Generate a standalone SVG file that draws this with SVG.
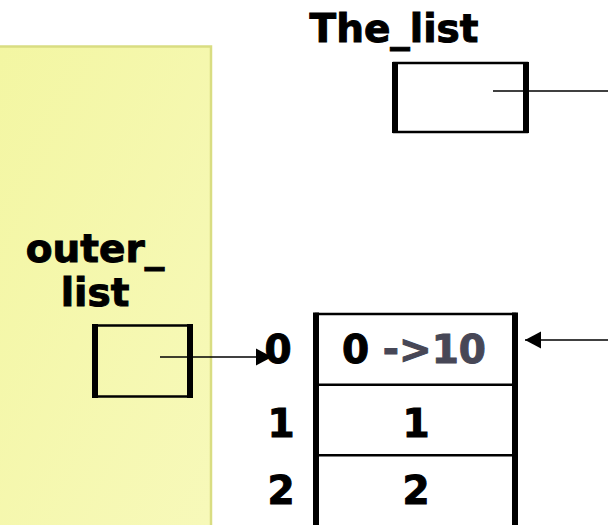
<svg xmlns="http://www.w3.org/2000/svg" width="608" height="525" viewBox="0 0 608 525">
  <style>
    .lbl { font-family: "DejaVu Sans", Verdana, sans-serif; font-weight: bold; font-size: 39px; fill: #000; stroke: #000; stroke-width: 1; }
    .mid { text-anchor: middle; }
    .grey { fill: #474756; stroke: #474756; }
    .edge { fill: none; stroke: #000; stroke-width: 2.5; }
    .side { stroke: #000; stroke-width: 6; }
    .link { fill: none; stroke: #000; stroke-width: 1.6; }
  </style>
  <defs>
    <linearGradient id="panelFill" x1="0" y1="0" x2="1" y2="1">
      <stop offset="0" stop-color="#f3f6a2"/>
      <stop offset="1" stop-color="#f7f9ba"/>
    </linearGradient>
    <marker id="head" markerUnits="userSpaceOnUse" markerWidth="18" markerHeight="18" refX="16" refY="9" orient="auto" overflow="visible">
      <path d="M0,0.5 L16,9 L0,17.5 Z" fill="#000"/>
    </marker>
  </defs>

  <rect width="608" height="525" fill="#fff"/>

  <!-- frame of the calling scope -->
  <g id="frame">
    <rect x="-10" y="46.5" width="221" height="490" fill="url(#panelFill)" stroke="#d9dd82" stroke-width="2.5"/>
  </g>

  <!-- variable The_list -->
  <g id="the_list">
    <text class="lbl mid" x="394" y="42">The_list</text>
    <rect class="edge" x="394" y="63" width="133" height="69"/>
    <line class="side" x1="395" y1="62" x2="395" y2="133"/>
    <line class="side" x1="526" y1="62" x2="526" y2="133"/>
  </g>

  <!-- variable outer_list -->
  <g id="outer_list">
    <text class="lbl mid" x="95" y="262">outer_</text>
    <text class="lbl mid" x="95" y="306">list</text>
    <rect class="edge" x="95" y="325.5" width="95" height="71"/>
    <line class="side" x1="95" y1="324" x2="95" y2="398"/>
    <line class="side" x1="190" y1="324" x2="190" y2="398"/>
  </g>

  <!-- list object with three slots -->
  <g id="list_object">
    <rect class="edge" x="316" y="314" width="199" height="213"/>
    <line class="edge" x1="316" y1="384.7" x2="515" y2="384.7"/>
    <line class="edge" x1="316" y1="455.3" x2="515" y2="455.3"/>
    <line class="side" x1="316" y1="312.5" x2="316" y2="530"/>
    <line class="side" x1="515" y1="312.5" x2="515" y2="530"/>
    <text class="lbl mid" x="278" y="363">0</text>
    <text class="lbl mid" x="281" y="437">1</text>
    <text class="lbl mid" x="281" y="504">2</text>
    <text class="lbl mid" x="414" y="363">0 <tspan class="grey">-&gt;10</tspan></text>
    <text class="lbl mid" x="416" y="437">1</text>
    <text class="lbl mid" x="416" y="504">2</text>
  </g>

  <!-- references -->
  <g id="connectors">
    <line class="link" x1="493" y1="91" x2="610" y2="91"/>
    <line class="link" x1="610" y1="340" x2="525" y2="340" marker-end="url(#head)"/>
    <line class="link" x1="160" y1="357" x2="272" y2="357" marker-end="url(#head)"/>
  </g>
</svg>
